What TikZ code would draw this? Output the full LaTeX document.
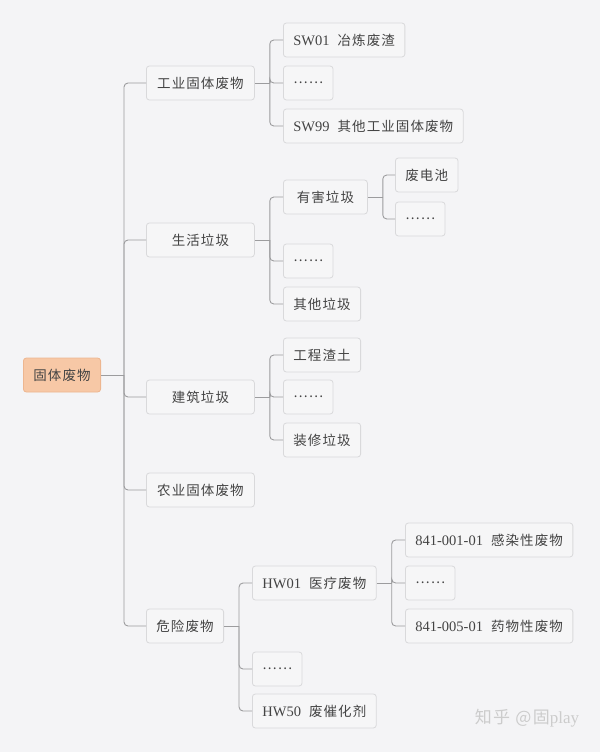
\documentclass[tikz,border=0pt]{standalone}
\usepackage{fontspec}
\setmainfont{Liberation Serif}
\newfontfamily\cjk[LetterSpace=8]{Noto Sans CJK SC}
\usetikzlibrary{positioning}
\definecolor{mapbg}{HTML}{F4F4F6}
\definecolor{boxline}{HTML}{D9D9DB}
\definecolor{boxfill}{HTML}{F6F6F7}
\definecolor{rootfill}{HTML}{F7C8A6}
\definecolor{rootline}{HTML}{EDB690}
\definecolor{linkgray}{HTML}{9C9C9E}
\definecolor{txtgray}{HTML}{444444}
\newcommand{\zh}[1]{{\cjk\fontsize{13.5}{16}\selectfont #1}}

\begin{document}
\begin{tikzpicture}[x=1pt,y=-1pt,
    topic/.style={draw=boxline,fill=boxfill,rounded corners=3pt,line width=0.8pt,
      minimum height=34pt,inner xsep=10pt,inner ysep=0pt,anchor=west,
      text=txtgray,font=\fontsize{14.5}{17}\selectfont},
    root/.style={topic,fill=rootfill,draw=rootline},
    main/.style={topic,minimum width=108pt},
    link/.style={draw=linkgray,line width=0.9pt},
    elbow/.style={link,rounded corners=4pt}]
    \useasboundingbox (0,0) rectangle (600,752);
    \fill[mapbg] (0,0) rectangle (600,752);

    % Root and first level
    \node[root] (gt) at (23,375) {\zh{固体废物}};
    \node[main] (gy) at (146,83) {\zh{工业固体废物}};
    \node[main] (sh) at (146,240) {\zh{生活垃圾}};
    \node[main] (jz) at (146,397) {\zh{建筑垃圾}};
    \node[main] (ny) at (146,490) {\zh{农业固体废物}};
    \node[topic] (wx) at (146,626) {\zh{危险废物}};

    % Industrial
    \node[topic] (sw01) at (283,40) {SW01\hspace{8pt}\zh{冶炼废渣}};
    \node[topic] (gydot) at (283,83) {\zh{……}};
    \node[topic] (sw99) at (283,126) {SW99\hspace{8pt}\zh{其他工业固体废物}};

    % Household
    \node[topic,minimum width=84pt] (yh) at (283,197) {\zh{有害垃圾}};
    \node[topic] (shdot) at (283,261) {\zh{……}};
    \node[topic] (qt) at (283,304) {\zh{其他垃圾}};
    \node[topic] (fdc) at (395,175) {\zh{废电池}};
    \node[topic] (yhdot) at (395,219) {\zh{……}};

    % Construction
    \node[topic] (gc) at (283,355) {\zh{工程渣土}};
    \node[topic] (jzdot) at (283,397) {\zh{……}};
    \node[topic] (zx) at (283,440) {\zh{装修垃圾}};

    % Hazardous
    \node[topic] (hw01) at (252,583) {HW01\hspace{8pt}\zh{医疗废物}};
    \node[topic] (wxdot) at (252,669) {\zh{……}};
    \node[topic] (hw50) at (252,711) {HW50\hspace{8pt}\zh{废催化剂}};
    \node[topic] (gr) at (405,540) {841-001-01\hspace{8pt}\zh{感染性废物}};
    \node[topic] (hwdot) at (405,583) {\zh{……}};
    \node[topic] (yw) at (405,626) {841-005-01\hspace{8pt}\zh{药物性废物}};

    % Connectors
    \coordinate (gtb) at (124,375);
    \draw[link] (gt.east) -- (gtb);
    \foreach \c in {gy,sh,jz,ny,wx} \draw[elbow] (gtb) |- (\c.west);
    \foreach \p/\kids in {gy/{sw01,gydot,sw99},sh/{yh,shdot,qt},yh/{fdc,yhdot},
        jz/{gc,jzdot,zx},wx/{hw01,wxdot,hw50},hw01/{gr,hwdot,yw}} {
      \path (\p.east) ++(15,0) coordinate (\p-b);
      \draw[link] (\p.east) -- (\p-b);
      \foreach \c in \kids \draw[elbow] (\p-b) |- (\c.west);
    }

    % Watermark
    \node[text=black!20,font=\fontsize{17}{20}\selectfont] (wm) at (527,718)
      {{\cjk 知乎 @固}play};
\end{tikzpicture}
\end{document}
